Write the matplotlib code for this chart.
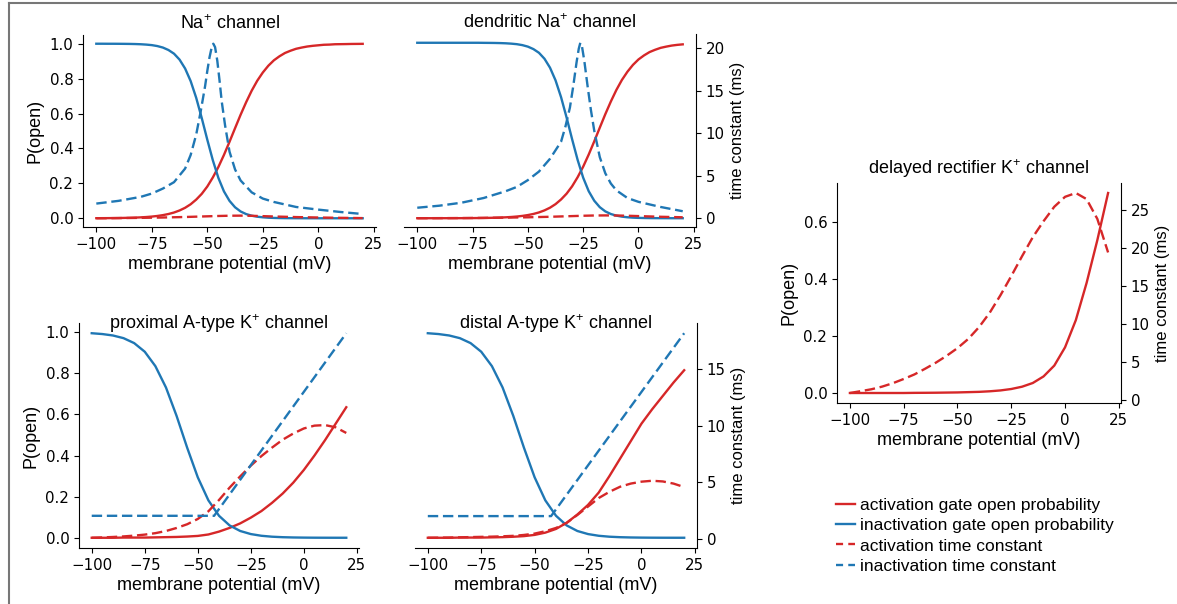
import matplotlib
matplotlib.use('Agg')
import matplotlib.pyplot as plt
from matplotlib.lines import Line2D
from matplotlib.ticker import MultipleLocator

plt.rcParams['font.family'] = ['Liberation Sans', 'DejaVu Sans']
plt.rcParams['mathtext.fontset'] = 'custom'
plt.rcParams['mathtext.rm'] = 'Liberation Sans'
plt.rcParams['mathtext.it'] = 'Liberation Sans:italic'
plt.rcParams['mathtext.bf'] = 'Liberation Sans:bold'
plt.rcParams['mathtext.default'] = 'regular'

# ---------------- data ----------------
V = [-100, -95, -90, -85, -80, -75, -70, -65, -60, -55, -50, -45, -40,
     -35, -30, -25, -20, -15, -10, -5, 0, 5, 10, 15, 20]
V_FINE = [-100, -97.5, -95, -92.5, -90, -87.5, -85, -82.5, -80, -77.5, -75, -72.5,
          -70, -67.5, -65, -62.5, -60, -57.5, -55, -52.5, -50, -47.5, -45, -42.5,
          -40, -37.5, -35, -32.5, -30, -27.5, -25, -22.5, -20, -17.5, -15, -12.5,
          -10, -7.5, -5, -2.5, 0, 2.5, 5, 7.5, 10, 12.5, 15, 17.5, 20]
XTICKS = [-100, -75, -50, -25, 0, 25]

# Na+ channel
na_m_inf = [0.0004, 0.0006, 0.0008, 0.0011, 0.0015, 0.0021, 0.0028, 0.0038, 0.0052,
            0.0071, 0.0097, 0.0132, 0.018, 0.0244, 0.033, 0.0447, 0.060, 0.0803,
            0.107, 0.140, 0.182, 0.234, 0.294, 0.363, 0.438, 0.516, 0.593, 0.665,
            0.731, 0.788, 0.835, 0.874, 0.905, 0.928, 0.947, 0.960, 0.971, 0.978,
            0.984, 0.988, 0.991, 0.994, 0.995, 0.997, 0.9975, 0.998, 0.9987, 0.999,
            0.9993]
na_h_inf = [1.0, 1.0, 0.9998, 0.9998, 0.9996, 0.9993, 0.9989, 0.9982, 0.997, 0.995,
            0.992, 0.9866, 0.978, 0.964, 0.943, 0.909, 0.858, 0.786, 0.690, 0.574,
            0.450, 0.332, 0.231, 0.154, 0.0998, 0.063, 0.039, 0.024, 0.0148, 0.009,
            0.0055, 0.0033, 0.002, 0.0012, 0.0007, 0.0005, 0.0003, 0.0002, 0.0001,
            0.0001, 0.0, 0.0, 0.0, 0.0, 0.0, 0.0, 0.0, 0.0, 0.0]
na_tau_m_v = [-100, -90, -80, -70, -60, -50, -45, -40, -35, -30, -25, -20, -10, 0, 10, 20]
na_tau_m = [0.05, 0.07, 0.1, 0.14, 0.2, 0.28, 0.32, 0.35, 0.36, 0.34, 0.3, 0.26,
            0.19, 0.14, 0.1, 0.07]
na_tau_h_v = [-100, -90, -80, -75, -70, -65, -60, -57.5, -55, -53, -51, -50, -49,
              -48, -47.3, -46.5, -45.5, -44.5, -43.5, -42, -40, -37.5, -35, -30, -25,
              -20, -10, 0, 10, 20]
na_tau_h = [1.78, 2.1, 2.57, 2.96, 3.55, 4.3, 5.9, 7.5, 9.9, 12.6, 15.6, 17.4, 19.0,
            20.2, 20.6, 20.2, 18.6, 16.3, 13.8, 11.0, 7.9, 5.8, 4.5, 3.1, 2.37, 1.97,
            1.38, 1.07, 0.79, 0.55]

# dendritic Na+ channel
dna_m_inf = [0.0001, 0.0001, 0.0001, 0.0001, 0.0002, 0.0002, 0.0002, 0.0003, 0.0004,
             0.0006, 0.0008, 0.0011, 0.0015, 0.0021, 0.0028, 0.0038, 0.0052, 0.0071,
             0.0097, 0.0132, 0.018, 0.0244, 0.033, 0.0447, 0.060, 0.0803, 0.107,
             0.140, 0.182, 0.234, 0.294, 0.363, 0.438, 0.516, 0.593, 0.665, 0.731,
             0.788, 0.835, 0.874, 0.905, 0.928, 0.947, 0.960, 0.971, 0.978, 0.984,
             0.988, 0.991]
dna_h_inf = [1.0, 1.0, 1.0, 1.0, 1.0, 1.0, 1.0, 1.0, 1.0, 1.0, 1.0, 1.0, 0.9996,
             0.9993, 0.9989, 0.9982, 0.997, 0.995, 0.992, 0.9866, 0.978, 0.964, 0.943,
             0.909, 0.858, 0.786, 0.690, 0.574, 0.450, 0.332, 0.231, 0.154, 0.0998,
             0.063, 0.039, 0.024, 0.0148, 0.009, 0.0055, 0.0033, 0.002, 0.0012,
             0.0007, 0.0005, 0.0003, 0.0002, 0.0001, 0.0001, 0.0]
dna_tau_m_v = [-100, -90, -80, -70, -60, -50, -40, -30, -25, -20, -15, -10, -5, 0, 10, 20]
dna_tau_m = [0.03, 0.04, 0.05, 0.07, 0.1, 0.14, 0.2, 0.28, 0.32, 0.35, 0.36, 0.35,
             0.32, 0.28, 0.2, 0.14]
dna_tau_h_v = [-100, -90, -80, -70, -60, -55, -50, -45, -40, -37.5, -35, -33, -31,
               -29.5, -28, -27, -26.3, -25.5, -24.5, -23, -21.5, -20, -17.5, -15,
               -12.5, -10, -5, 0, 10, 20]
dna_tau_h = [1.26, 1.5, 1.85, 2.4, 3.2, 3.7, 4.5, 5.5, 7.0, 8.0, 9.0, 10.8, 13.0,
             15.5, 18.3, 19.9, 20.6, 20.1, 18.5, 15.5, 12.7, 10.3, 7.2, 5.3, 4.1, 3.3,
             2.4, 1.95, 1.35, 0.85]

# A-type K+ channels
ka_l_inf = [0.995, 0.991, 0.984, 0.971, 0.947, 0.905, 0.835, 0.731, 0.593, 0.438,
            0.294, 0.182, 0.107, 0.060, 0.033, 0.018, 0.0097, 0.0052, 0.0028,
            0.0015, 0.0008, 0.0004, 0.0002, 0.0001, 0.0001]
ka_tau_l_v = [-100, -42.3, 20]
ka_tau_l = [2.0, 2.0, 18.2]
kap_n_inf = [0.0, 0.0, 0.0, 0.001, 0.001, 0.001, 0.002, 0.003, 0.004, 0.006, 0.009,
             0.016, 0.03, 0.048, 0.07, 0.098, 0.13, 0.17, 0.215, 0.268, 0.33, 0.40,
             0.475, 0.555, 0.635]
kap_tau_n = [0.05, 0.08, 0.12, 0.17, 0.24, 0.33, 0.46, 0.65, 0.92, 1.25, 1.72, 2.4,
             3.4, 4.5, 5.5, 6.45, 7.3, 8.05, 8.75, 9.3, 9.75, 10.0, 10.05, 9.85, 9.35]
kad_n_inf = [0.0, 0.0, 0.0, 0.001, 0.001, 0.001, 0.002, 0.003, 0.005, 0.008, 0.014,
             0.025, 0.043, 0.073, 0.113, 0.16, 0.22, 0.30, 0.385, 0.47, 0.555, 0.625,
             0.69, 0.755, 0.815]
kad_tau_n = [0.08, 0.09, 0.1, 0.12, 0.14, 0.16, 0.18, 0.21, 0.25, 0.33, 0.45, 0.66,
             0.95, 1.4, 2.1, 2.85, 3.6, 4.15, 4.6, 4.88, 5.05, 5.13, 5.07, 4.88, 4.57]

# delayed rectifier K+ channel
kdr_n_inf = [0.0, 0.0, 0.0, 0.0, 0.0, 0.0, 0.0005, 0.0007, 0.001, 0.0015, 0.002,
             0.003, 0.004, 0.006, 0.009, 0.014, 0.022, 0.035, 0.058, 0.096, 0.16,
             0.255, 0.385, 0.535, 0.70]
kdr_tau_n = [0.96, 1.2, 1.45, 1.8, 2.25, 2.8, 3.4, 4.15, 4.95, 5.85, 6.85, 8.05, 9.6,
             11.5, 13.8, 16.3, 18.9, 21.4, 23.5, 25.4, 26.7, 27.2, 26.4, 23.8, 19.4]

LEGEND_LABELS = ['activation gate open probability',
                 'inactivation gate open probability',
                 'activation time constant',
                 'inactivation time constant']

# ---------------- styling ----------------
RED = '#d62728'
BLUE = '#1f77b4'
LW = 1.7
DASH = (0, (4.4, 2.0))
W, H = 1177, 604
fig = plt.figure(figsize=(W / 100, H / 100), dpi=100)


def px_axes(l, t, r, b):
    return fig.add_axes([l / W, 1 - b / H, (r - l) / W, (b - t) / H])


def style(ax, tw, show_left, show_right):
    for s in ['top', 'right']:
        ax.spines[s].set_visible(False)
    for s in ['top', 'left', 'bottom']:
        tw.spines[s].set_visible(False)
    for a in (ax, tw):
        a.tick_params(labelsize=10.8, labelfontfamily='DejaVu Sans')
    tw.yaxis.set_major_locator(MultipleLocator(5))
    ax.set_xticks(XTICKS)
    ax.set_xlabel('membrane potential (mV)', fontsize=13, labelpad=3)
    if show_left:
        ax.set_ylabel('P(open)', fontsize=13)
    else:
        ax.spines['left'].set_visible(False)
        ax.tick_params(left=False, labelleft=False)
    if show_right:
        tw.set_ylabel('time constant (ms)', fontsize=12)
    else:
        tw.spines['right'].set_visible(False)
        tw.tick_params(right=False, labelright=False)


panels = [
    dict(box=(83, 35, 376, 227), title='Na$^{+}$ channel', pad=4.5, L=True, R=False,
         act=(V_FINE, na_m_inf), inact=(V_FINE, na_h_inf),
         tact=(na_tau_m_v, na_tau_m), tinact=(na_tau_h_v, na_tau_h)),
    dict(box=(404, 34, 696, 227), title='dendritic Na$^{+}$ channel', pad=4.5, L=False, R=True,
         act=(V_FINE, dna_m_inf), inact=(V_FINE, dna_h_inf),
         tact=(dna_tau_m_v, dna_tau_m), tinact=(dna_tau_h_v, dna_tau_h)),
    dict(box=(79, 323, 359, 548), title='proximal A-type K$^{+}$ channel', pad=-4.0, L=True, R=False,
         act=(V, kap_n_inf), inact=(V, ka_l_inf),
         tact=(V, kap_tau_n), tinact=(ka_tau_l_v, ka_tau_l)),
    dict(box=(415, 323, 697, 548), title='distal A-type K$^{+}$ channel', pad=-4.0, L=False, R=True,
         act=(V, kad_n_inf), inact=(V, ka_l_inf),
         tact=(V, kad_tau_n), tinact=(ka_tau_l_v, ka_tau_l)),
    dict(box=(837, 183, 1121, 403), title='delayed rectifier K$^{+}$ channel', pad=6.5, L=True, R=True,
         act=(V, kdr_n_inf), inact=None,
         tact=(V, kdr_tau_n), tinact=None),
]

for p in panels:
    ax = px_axes(*p['box'])
    tw = ax.twinx()
    ax.plot(*p['act'], color=RED, lw=LW)
    if p['inact'] is not None:
        ax.plot(*p['inact'], color=BLUE, lw=LW)
    tw.plot(*p['tact'], color=RED, lw=LW, linestyle=DASH)
    if p['tinact'] is not None:
        tw.plot(*p['tinact'], color=BLUE, lw=LW, linestyle=DASH)
    ax.set_title(p['title'], fontsize=13, y=1.0, pad=p['pad'])
    style(ax, tw, p['L'], p['R'])

handles = [Line2D([], [], color=RED, lw=LW),
           Line2D([], [], color=BLUE, lw=LW),
           Line2D([], [], color=RED, lw=LW, linestyle=(0, (3.0, 2.2))),
           Line2D([], [], color=BLUE, lw=LW, linestyle=(0, (3.0, 2.2)))]
fig.legend(handles, LEGEND_LABELS, loc='upper left',
           bbox_to_anchor=(836 / W, 1 - 498 / H), frameon=False, fontsize=12.5,
           handlelength=1.1, handletextpad=0.3, labelspacing=0.29,
           borderpad=0, borderaxespad=0)

# thin grey frame lines at top and left of the image
fig.add_artist(Line2D([8.5 / W, 8.5 / W], [0, 1 - 2.5 / H], transform=fig.transFigure,
                      color='#777777', lw=1.5))
fig.add_artist(Line2D([8.5 / W, 1], [1 - 2.5 / H, 1 - 2.5 / H], transform=fig.transFigure,
                      color='#777777', lw=1.5))

fig.savefig('out.png', dpi=100)
